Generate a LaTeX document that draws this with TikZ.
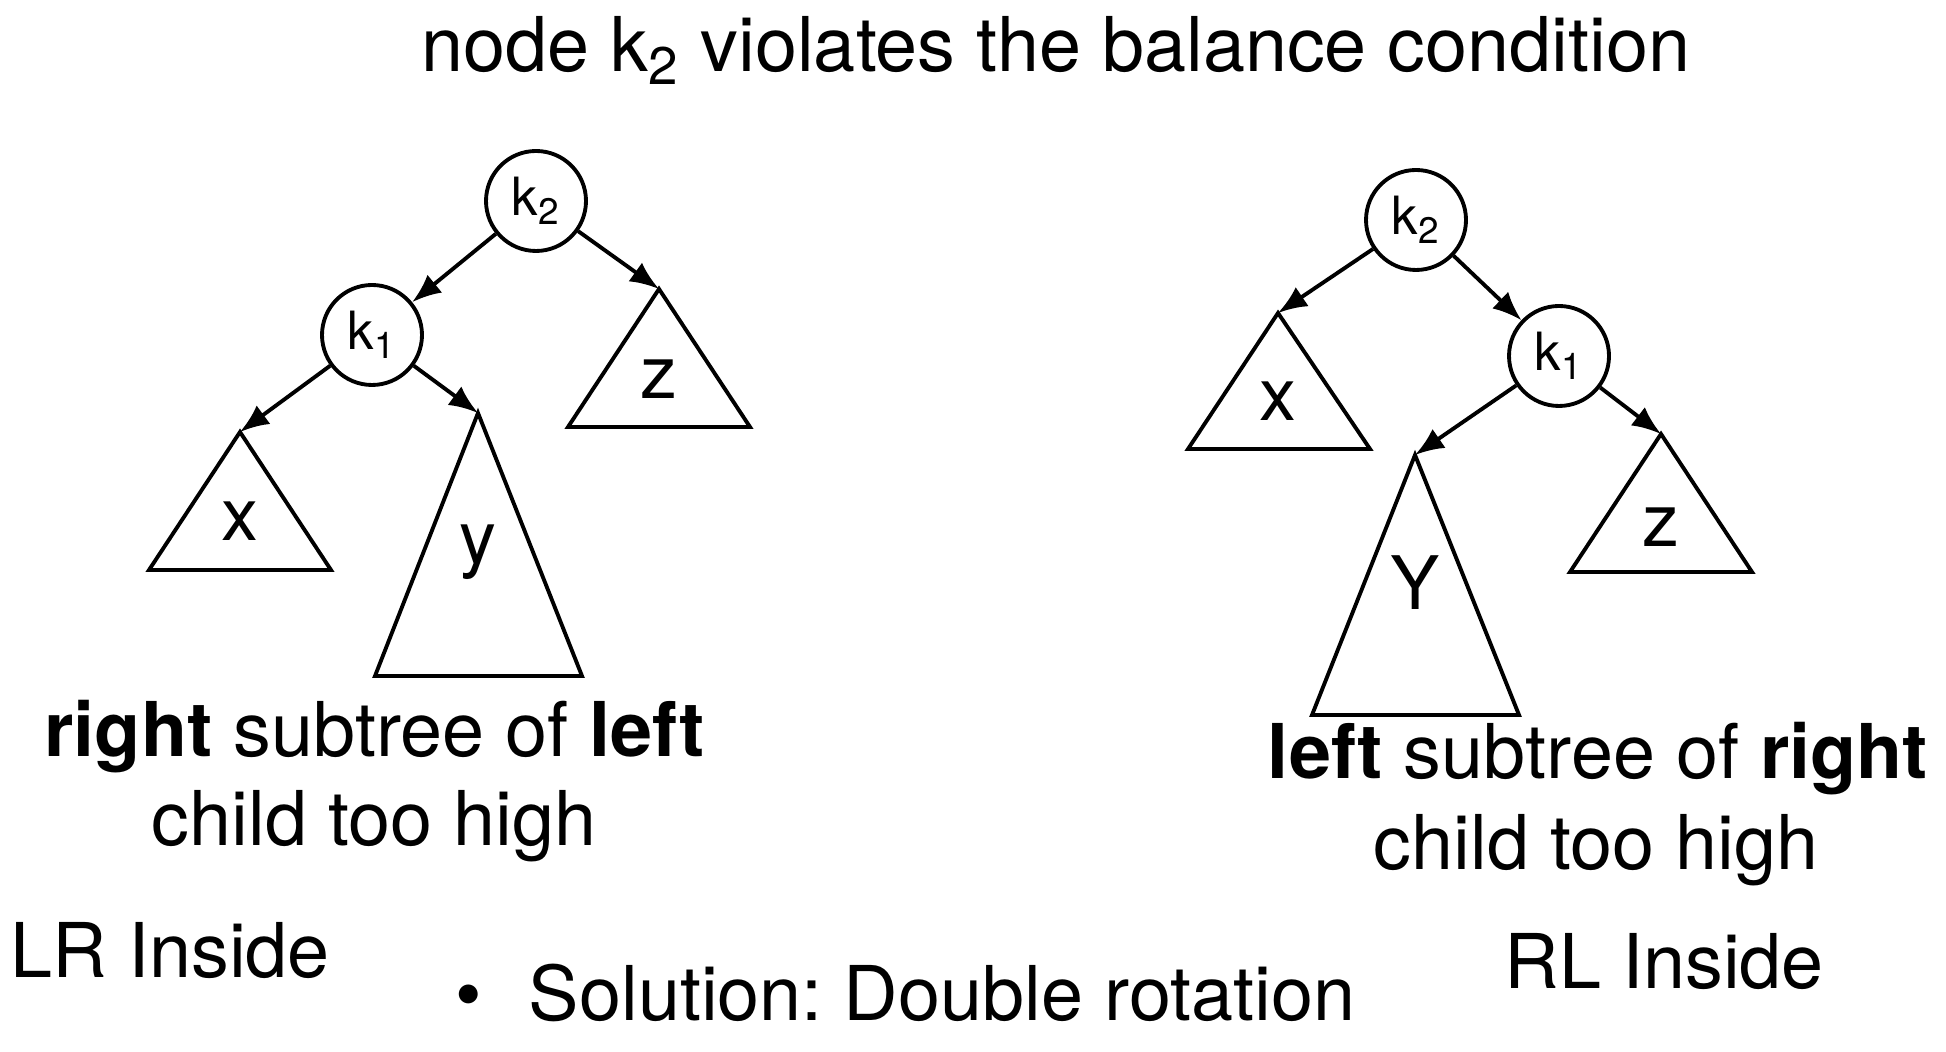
\documentclass[tikz,border=0pt]{standalone}
\usepackage{fontspec}
\setmainfont{TeX Gyre Heros}
\usetikzlibrary{arrows.meta}
\frenchspacing

\tikzset{
  keynode/.style={circle,draw,line width=1.1pt,minimum size=1cm,inner sep=0pt,font=\fontsize{15}{17}\selectfont},
  subtree/.style={draw,line width=1.1pt,line join=miter},
  treeedge/.style={line width=1.1pt,-{Latex[length=2.9mm,width=2.3mm]}},
  bigtext/.style={font=\fontsize{21.5}{26}\selectfont},
  treelabel/.style={font=\fontsize{21}{25}\selectfont},
}

\begin{document}
\begin{tikzpicture}
    \useasboundingbox (0,0) rectangle (19.46,-10.52);
    \node[bigtext,anchor=base] (title) at (10.56,-0.72) {node k\textsubscript{2} violates the balance condition};

    % left tree: LR inside
    \node[keynode] (lk2) at (5.36,-2.01) {k\textsubscript{2}};
    \node[keynode] (lk1) at (3.72,-3.35) {k\textsubscript{1}};
    \coordinate (lx) at (2.40,-4.32);
    \coordinate (ly) at (4.78,-4.13);
    \coordinate (lz) at (6.59,-2.89);
    \draw[subtree] (lx) -- (1.49,-5.70) -- (3.31,-5.70) -- cycle;
    \draw[subtree] (ly) -- (3.75,-6.76) -- (5.82,-6.76) -- cycle;
    \draw[subtree] (lz) -- (5.68,-4.27) -- (7.50,-4.27) -- cycle;
    \node[treelabel] (lxl) at (2.40,-5.21) {x};
    \node[treelabel] (lyl) at (4.78,-5.52) {y};
    \node[treelabel] (lzl) at (6.59,-3.79) {z};
    \draw[treeedge] (lk2) -- (lk1);
    \draw[treeedge] (lk2) -- (lz);
    \draw[treeedge] (lk1) -- (lx);
    \draw[treeedge] (lk1) -- (ly);

    \node[bigtext,anchor=base] (lcase1) at (3.745,-7.57) {\textbf{right} subtree of \textbf{left}};
    \node[bigtext,anchor=base] (lcase2) at (3.74,-8.46) {child too high};
    \node[bigtext,anchor=base west,inner sep=0pt] (lr) at (0.10,-9.78) {LR Inside};

    % right tree: RL inside
    \node[keynode] (rk2) at (14.16,-2.20) {k\textsubscript{2}};
    \node[keynode] (rk1) at (15.59,-3.56) {k\textsubscript{1}};
    \coordinate (rx) at (12.78,-3.13);
    \coordinate (ry) at (14.15,-4.55);
    \coordinate (rz) at (16.61,-4.34);
    \draw[subtree] (rx) -- (11.88,-4.49) -- (13.70,-4.49) -- cycle;
    \draw[subtree] (ry) -- (13.12,-7.15) -- (15.19,-7.15) -- cycle;
    \draw[subtree] (rz) -- (15.70,-5.72) -- (17.52,-5.72) -- cycle;
    \node[treelabel] (rxl) at (12.78,-4.01) {x};
    \node[treelabel] (ryl) at (14.15,-5.83) {Y};
    \node[treelabel] (rzl) at (16.61,-5.27) {z};
    \draw[treeedge] (rk2) -- (rx);
    \draw[treeedge] (rk2) -- (rk1);
    \draw[treeedge] (rk1) -- (ry);
    \draw[treeedge] (rk1) -- (rz);

    \node[bigtext,anchor=base] (rcase1) at (15.98,-7.79) {\textbf{left} subtree of \textbf{right}};
    \node[bigtext,anchor=base] (rcase2) at (15.96,-8.70) {child too high};
    \node[bigtext,anchor=base west,inner sep=0pt] (rl) at (15.04,-9.88) {RL Inside};

    \node[bigtext,anchor=base west,inner sep=0pt] (sol) at (4.55,-10.21) {\textbullet\hspace{0.62em}Solution: Double rotation};
\end{tikzpicture}
\end{document}
